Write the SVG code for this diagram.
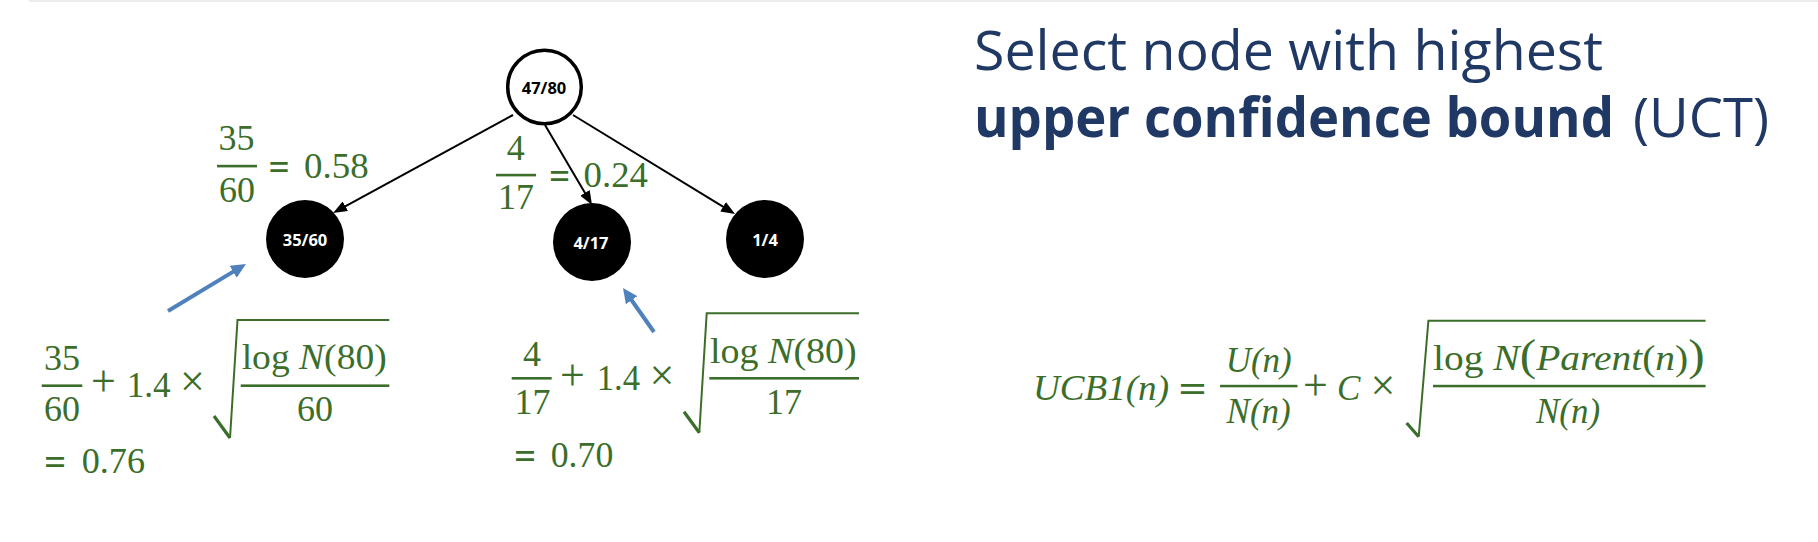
<svg xmlns="http://www.w3.org/2000/svg" width="1818" height="542" viewBox="0 0 1818 542">
<defs>
<marker id="ah" markerUnits="userSpaceOnUse" markerWidth="14" markerHeight="11" refX="8" refY="5.5" orient="auto"><path d="M0,0 L14,5.5 L0,11 z" fill="#000"/></marker>
<marker id="bh" markerUnits="userSpaceOnUse" markerWidth="15" markerHeight="14" refX="7" refY="7" orient="auto"><path d="M0,0 L15,7 L0,14 z" fill="#4f81bd"/></marker>
</defs>
<style>
.m{font-family:"Liberation Serif","DejaVu Serif",serif;fill:#3b6e2a;font-size:36px}
.op{font-family:"DejaVu Serif","Liberation Serif",serif;fill:#3b6e2a;font-size:36px}
.big{font-family:"Liberation Serif","DejaVu Serif",serif;fill:#3b6e2a;font-size:44px;text-anchor:middle}
.u{font-family:"Liberation Serif","DejaVu Serif",serif;fill:#3b6e2a;font-size:35px;font-style:italic}
.c{text-anchor:middle}
.bar{fill:#3b6e2a}
.rad{fill:none;stroke:#3b6e2a;stroke-width:2}
.radd{fill:none;stroke:#3b6e2a;stroke-width:3.2}
.edge{stroke:#000;stroke-width:2;fill:none;marker-end:url(#ah)}
.blue{stroke:#4f81bd;stroke-width:4;fill:none;marker-end:url(#bh)}
.lbl{font-family:"Open Sans","Liberation Sans",sans-serif;font-weight:700;font-size:16.5px;text-anchor:middle}
.title{font-family:"Open Sans","Liberation Sans",sans-serif;font-size:55px;fill:#203864}
</style>
<rect x="0" y="0" width="1818" height="542" fill="#fff"/>
<rect x="29" y="0" width="1789" height="2" fill="#ececec"/>

<g id="title">
<text class="title" x="974" y="70" textLength="629" lengthAdjust="spacingAndGlyphs">Select node with highest</text>
<text class="title" x="974" y="137" font-weight="700" textLength="640" lengthAdjust="spacingAndGlyphs">upper confidence bound</text>
<text class="title" x="1633" y="137" textLength="136" lengthAdjust="spacingAndGlyphs">(UCT)</text>
</g>

<g id="connectors">
<line class="edge" x1="513" y1="115" x2="338.3" y2="210.1"/>
<line class="edge" x1="545" y1="125" x2="589" y2="199.8"/>
<line class="edge" x1="573" y1="115" x2="729.9" y2="210.9"/>
<line class="blue" x1="168" y1="311" x2="239.1" y2="268.1"/>
<line class="blue" x1="654" y1="332" x2="627.6" y2="294.5"/>
</g>

<g id="node-root">
<circle cx="544.5" cy="87" r="36.8" fill="#fff" stroke="#000" stroke-width="3.5"/>
<text class="lbl" x="544" y="94" fill="#000">47/80</text>
</g>
<g id="node-35-60">
<circle cx="305" cy="239" r="39" fill="#000"/>
<text class="lbl" x="305" y="246" fill="#fff">35/60</text>
</g>
<g id="node-4-17">
<circle cx="592" cy="242" r="39" fill="#000"/>
<text class="lbl" x="591" y="249" fill="#fff">4/17</text>
</g>
<g id="node-1-4">
<circle cx="765" cy="239" r="39" fill="#000"/>
<text class="lbl" x="765" y="246" fill="#fff">1/4</text>
</g>

<g id="label-35-60">
<text class="m c" x="236.5" y="150">35</text>
<rect class="bar" x="217" y="164.8" width="40" height="2.6"/>
<text class="m c" x="237" y="201.7">60</text>
<text class="op" x="267.5" y="177.7" textLength="23" lengthAdjust="spacingAndGlyphs">=</text>
<text class="m" x="304" y="177.7" textLength="64.6" lengthAdjust="spacingAndGlyphs">0.58</text>
</g>

<g id="label-4-17">
<text class="m c" x="515.7" y="160">4</text>
<rect class="bar" x="496" y="173.8" width="40" height="2.6"/>
<text class="m c" x="516" y="209.3">17</text>
<text class="op" x="548" y="186.7" textLength="23" lengthAdjust="spacingAndGlyphs">=</text>
<text class="m" x="583.6" y="186.7" textLength="64.4" lengthAdjust="spacingAndGlyphs">0.24</text>
</g>

<g id="formula-35-60">
<text class="m c" x="62" y="370">35</text>
<rect class="bar" x="41.7" y="384.4" width="40.6" height="2.6"/>
<text class="m c" x="62" y="420.7">60</text>
<text class="big" x="103.3" y="396">+</text>
<text class="m" x="126.7" y="396.7" textLength="44" lengthAdjust="spacingAndGlyphs">1.4</text>
<text class="big" x="192.5" y="396">×</text>
<path class="radd" d="M214,416 L230,438"/>
<path class="rad" d="M230,438 L237.5,320 L389.3,320"/>
<text class="m" x="241.7" y="369.3" textLength="145" lengthAdjust="spacingAndGlyphs">log <tspan font-style="italic">N</tspan>(80)</text>
<rect class="bar" x="240.7" y="384.4" width="148.6" height="2.6"/>
<text class="m c" x="315" y="420.7">60</text>
<text class="op" x="43" y="472.7" textLength="24" lengthAdjust="spacingAndGlyphs">=</text>
<text class="m" x="81.7" y="472.7" textLength="63.3" lengthAdjust="spacingAndGlyphs">0.76</text>
</g>

<g id="formula-4-17">
<text class="m c" x="532" y="366">4</text>
<rect class="bar" x="511.7" y="377" width="40" height="2.6"/>
<text class="m c" x="532.5" y="414">17</text>
<text class="big" x="572.5" y="389.5">+</text>
<text class="m" x="596.7" y="390" textLength="43.3" lengthAdjust="spacingAndGlyphs">1.4</text>
<text class="big" x="662" y="389.5">×</text>
<path class="radd" d="M684,411.7 L699.3,432.7"/>
<path class="rad" d="M699.3,432.7 L706.7,313.3 L859,313.3"/>
<text class="m" x="710" y="363.3" textLength="146.7" lengthAdjust="spacingAndGlyphs">log <tspan font-style="italic">N</tspan>(80)</text>
<rect class="bar" x="709.3" y="377" width="149.7" height="2.6"/>
<text class="m c" x="784" y="414">17</text>
<text class="op" x="513" y="466.7" textLength="24" lengthAdjust="spacingAndGlyphs">=</text>
<text class="m" x="550.7" y="466.7" textLength="62.6" lengthAdjust="spacingAndGlyphs">0.70</text>
</g>

<g id="formula-ucb1">
<text class="u" x="1033" y="400" textLength="136" lengthAdjust="spacingAndGlyphs">UCB1(<tspan>n</tspan>)</text>
<text class="op" x="1177" y="400" textLength="31" lengthAdjust="spacingAndGlyphs">=</text>
<text class="u c" x="1258.7" y="372">U(n)</text>
<rect class="bar" x="1220" y="384.8" width="77.5" height="2.5"/>
<text class="u c" x="1258.7" y="423">N(n)</text>
<text class="big" x="1315.5" y="399.5">+</text>
<text class="u" x="1337" y="400">C</text>
<text class="big" x="1383" y="399.5">×</text>
<path class="radd" d="M1406.6,423 L1418.7,436.7"/>
<path class="rad" d="M1418.7,436.7 L1428.4,320.7 L1705.6,320.7"/>
<text class="m" x="1433" y="370" font-size="35" textLength="271.7" lengthAdjust="spacingAndGlyphs">log <tspan font-style="italic">N</tspan><tspan font-size="45">(</tspan><tspan font-style="italic">Parent</tspan>(<tspan font-style="italic">n</tspan>)<tspan font-size="45">)</tspan></text>
<rect class="bar" x="1433" y="384.8" width="272.6" height="2.5"/>
<text class="u c" x="1568" y="423">N(n)</text>
</g>
</svg>
